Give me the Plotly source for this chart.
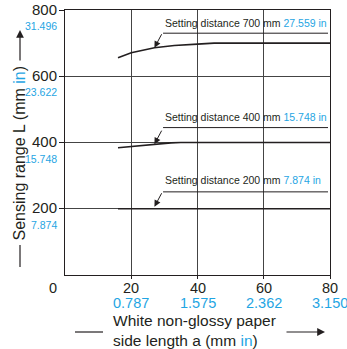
import plotly.graph_objects as go

# ---- data ----
x_700 = [16, 20, 27, 33, 40, 45, 80]
y_700 = [656, 671, 686, 693, 697, 700, 700]
x_400 = [16, 20, 27, 32, 35, 80]
y_400 = [384, 388, 395, 399, 400, 400]
x_200 = [16, 80]
y_200 = [200, 200]

y_ticks = [200, 400, 600, 800]
y_tick_in = ["7.874", "15.748", "23.622", "31.496"]
x_ticks = [20, 40, 60, 80]
x_tick_in = ["0.787", "1.575", "2.362", "3.150"]

labels_mm = ["700", "400", "200"]
labels_in = ["27.559", "15.748", "7.874"]
arrow_tip_x = [27, 27, 27]
arrow_tip_y = [686, 395, 206]
leader_y = [730, 445, 251]
text_y = [762, 478, 287]
leader_x0, leader_x1 = 29.6, 79.4

BLACK = "#231f20"
BLUE = "#1fa5e3"
FONT = "Liberation Sans, Arial, sans-serif"

fig = go.Figure()
for xs, ys in [(x_700, y_700), (x_400, y_400), (x_200, y_200)]:
    fig.add_trace(go.Scatter(x=xs, y=ys, mode="lines",
                             line=dict(color=BLACK, width=1.6),
                             showlegend=False, hoverinfo="skip"))

annotations = []
shapes = []

# y tick labels
for v, s in zip(y_ticks, y_tick_in):
    annotations.append(dict(xref="paper", yref="y", x=-0.022, y=v, yshift=1, text=str(v),
                            showarrow=False, xanchor="right", yanchor="middle",
                            font=dict(family=FONT, size=15, color=BLACK)))
    annotations.append(dict(xref="paper", yref="y", x=-0.022, y=v, yshift=-16, text=s,
                            showarrow=False, xanchor="right", yanchor="middle",
                            font=dict(family=FONT, size=10.5, color=BLUE)))
# x tick labels
annotations.append(dict(xref="x", yref="paper", x=0, y=0, xshift=-12, yshift=-13, text="0",
                        showarrow=False, xanchor="center", yanchor="middle",
                        font=dict(family=FONT, size=14.5, color=BLACK)))
for v, s in zip(x_ticks, x_tick_in):
    annotations.append(dict(xref="x", yref="paper", x=v, y=0, yshift=-13, text=str(v),
                            showarrow=False, xanchor="center", yanchor="middle",
                            font=dict(family=FONT, size=14.5, color=BLACK)))
    annotations.append(dict(xref="x", yref="paper", x=v, y=0, yshift=-28, text=s,
                            showarrow=False, xanchor="center", yanchor="middle",
                            font=dict(family=FONT, size=14.5, color=BLUE)))

# setting distance labels
for mm, inch, tx, ty, ly, tyt in zip(labels_mm, labels_in, arrow_tip_x, arrow_tip_y, leader_y, text_y):
    annotations.append(dict(xref="x", yref="y", x=leader_x0, y=tyt, xanchor="left", yanchor="middle",
                            text=f"Setting distance {mm} mm <span style='color:{BLUE}'>{inch} in</span>",
                            showarrow=False, font=dict(family=FONT, size=10.5, color=BLACK)))
    shapes.append(dict(type="line", xref="x", yref="y", x0=leader_x0, x1=leader_x1, y0=ly, y1=ly,
                       line=dict(color=BLACK, width=1)))
    annotations.append(dict(xref="x", yref="y", x=tx, y=ty, text="", showarrow=True,
                            ax=8, ay=-15, arrowhead=2, arrowsize=1.3, arrowwidth=1,
                            arrowcolor=BLACK))

# y-axis title
annotations.append(dict(xref="paper", yref="paper", x=-0.17, y=0.462, textangle=-90,
                        text=f"Sensing range L (mm <span style='color:{BLUE}'>in</span>)",
                        showarrow=False, xanchor="center", yanchor="middle",
                        font=dict(family=FONT, size=16, color=BLACK)))
shapes.append(dict(type="line", xref="paper", yref="paper", x0=-0.1698, x1=-0.1698,
                   y0=0.1132, y1=0.0302, line=dict(color=BLACK, width=1.2)))
annotations.append(dict(xref="paper", yref="paper", x=-0.1698, y=0.9245, text="",
                        showarrow=True, ax=0, ay=32, arrowhead=2, arrowsize=1.3,
                        arrowwidth=1.2, arrowcolor=BLACK))

# x-axis title
annotations.append(dict(xref="paper", yref="paper", x=0.1736, y=-0.2151, yshift=2, xanchor="left",
                        yanchor="middle", align="left",
                        text=f"White non-glossy paper<br>side length a (mm <span style='color:{BLUE}'>in</span>)",
                        showarrow=False, font=dict(family=FONT, size=15.5, color=BLACK)))
shapes.append(dict(type="line", xref="paper", yref="paper", x0=0.0377, x1=0.1434,
                   y0=-0.2151, y1=-0.2151, line=dict(color=BLACK, width=1.2)))
annotations.append(dict(xref="paper", yref="paper", x=0.9811, y=-0.2151, text="",
                        showarrow=True, ax=-40, ay=0, arrowhead=2, arrowsize=1.3,
                        arrowwidth=1.2, arrowcolor=BLACK))

fig.update_layout(
    width=347, height=349,
    margin=dict(l=65, r=17, t=10, b=74),
    plot_bgcolor="white", paper_bgcolor="white",
    annotations=annotations, shapes=shapes,
    xaxis=dict(range=[0, 80], tickvals=x_ticks, showticklabels=False, ticks="outside",
               ticklen=3, tickcolor=BLACK, showgrid=True, gridcolor="#444444", gridwidth=1,
               showline=True, linecolor=BLACK, linewidth=1, mirror=True, zeroline=False,
               fixedrange=True),
    yaxis=dict(range=[0, 800], tickvals=y_ticks, showticklabels=False, ticks="outside",
               ticklen=5, tickcolor=BLACK, showgrid=True, gridcolor="#444444", gridwidth=1,
               showline=True, linecolor=BLACK, linewidth=1, mirror=True, zeroline=False,
               fixedrange=True),
)

fig.write_html("out.html")
